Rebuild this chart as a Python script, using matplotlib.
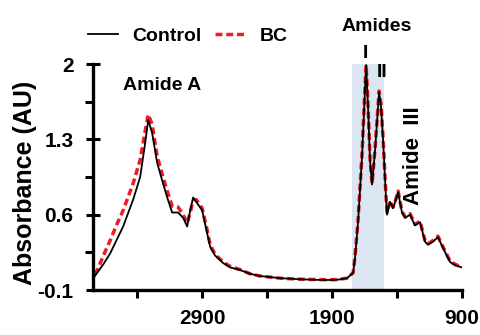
import numpy as np
import matplotlib
matplotlib.use("Agg")
import matplotlib.pyplot as plt

# wavenumber (cm-1) and absorbance
wavenumber = [3731, 3708, 3660, 3608, 3560, 3508, 3431, 3377, 3338, 3315,
              3285, 3246, 3208, 3169, 3131, 3085, 3046, 3015, 2992, 2969,
              2946, 2900, 2862, 2838, 2800, 2738, 2685, 2608, 2530, 2454,
              2300, 2146, 2040, 1938, 1860, 1785, 1738, 1723, 1700, 1669,
              1646, 1638, 1623, 1608, 1592, 1569, 1538, 1523, 1508, 1485,
              1477, 1454, 1431, 1408, 1392, 1362, 1338, 1300, 1262, 1223,
              1185, 1162, 1123, 1085, 1046, 992, 954, 900]
control = [0.02, 0.06, 0.14, 0.24, 0.36, 0.49, 0.74, 0.95, 1.27, 1.48,
           1.36, 1.08, 0.92, 0.76, 0.62, 0.62, 0.57, 0.49, 0.64, 0.76,
           0.72, 0.64, 0.43, 0.30, 0.22, 0.15, 0.11, 0.086, 0.05, 0.03,
           0.01, 0.0, -0.005, -0.007, -0.005, 0.01, 0.06, 0.20, 0.53, 1.15,
           1.78, 1.99, 1.60, 1.10, 0.88, 1.20, 1.74, 1.60, 1.31, 0.75,
           0.60, 0.72, 0.66, 0.74, 0.81, 0.62, 0.57, 0.60, 0.50, 0.53,
           0.35, 0.32, 0.35, 0.39, 0.29, 0.16, 0.13, 0.11]
bc = [0.05, 0.08, 0.22, 0.36, 0.50, 0.64, 0.89, 1.11, 1.38, 1.53,
      1.44, 1.14, 0.98, 0.82, 0.68, 0.67, 0.60, 0.52, 0.62, 0.73,
      0.74, 0.66, 0.46, 0.32, 0.23, 0.16, 0.12, 0.09, 0.05, 0.03,
      0.01, 0.0, -0.002, -0.005, -0.003, 0.01, 0.06, 0.22, 0.55, 1.18,
      1.80, 1.99, 1.62, 1.12, 0.89, 1.22, 1.75, 1.62, 1.33, 0.77,
      0.62, 0.73, 0.67, 0.75, 0.82, 0.63, 0.58, 0.61, 0.51, 0.54,
      0.36, 0.33, 0.36, 0.40, 0.30, 0.17, 0.14, 0.11]

x_ticks = [3400, 2900, 2400, 1900, 1400, 900]
x_labels = ['', '2900', '', '1900', '', '900']
y_ticks = [-0.1, 0.6, 1.3, 2.0]
y_labels = ['-0.1', '0.6', '1.3', '2']
y_minor = [0.25, 0.95, 1.65]

plt.rcParams['font.family'] = 'Liberation Sans'
plt.rcParams['font.weight'] = 'bold'
plt.rcParams['font.size'] = 14
plt.rcParams['axes.linewidth'] = 2.4

fig = plt.figure(figsize=(4.81, 3.35), dpi=100)
ax = fig.add_subplot(1, 1, 1)

# amide I/II band
ax.axvspan(1750, 1500, color='#dce6f2', zorder=0, lw=0)

ax.plot(wavenumber, bc, color='#ee1c25', linewidth=2.5,
        dashes=(2, 1.1), label='BC', zorder=2)
ax.plot(wavenumber, control, color='#000000', linewidth=1.3,
        label='Control', zorder=3)

ax.set_xlim(3740, 900)
ax.set_ylim(-0.1, 2.0)

for s in ['top', 'right']:
    ax.spines[s].set_visible(False)

ax.set_xticks(x_ticks)
ax.set_xticklabels(x_labels)
ax.set_yticks(y_ticks)
ax.set_yticklabels(y_labels)
ax.set_yticks(y_minor, minor=True)
ax.tick_params(axis='x', direction='out', length=6, width=2.2, pad=8,
               labelsize=15)
ax.tick_params(axis='y', which='major', direction='inout', length=10,
               width=2.2, pad=9, labelsize=15)
ax.tick_params(axis='y', which='minor', direction='out', length=6,
               width=2.2)

# labels on the peaks
ax.text(3208, 1.80, 'Amide A', ha='center', va='center', fontsize=14)
ax.text(1554, 2.35, 'Amides', ha='center', va='center', fontsize=14,
        clip_on=False)
ax.text(1646, 2.10, 'I', ha='center', va='center', fontsize=14,
        clip_on=False)
ax.text(1515, 1.92, 'II', ha='center', va='center', fontsize=14)
ax.text(1277, 1.15, 'Amide  III', ha='center', va='center', fontsize=16,
        rotation=90)

fig.text(25/481, 1-183/335, 'Absorbance (AU)', rotation=90,
         ha='center', va='center', fontsize=18)

plt.subplots_adjust(left=93/481, right=462/481, bottom=45/335, top=271/335)

h, l = ax.get_legend_handles_labels()
fig.legend(h[::-1], l[::-1], loc='center left',
           bbox_to_anchor=(88/481, 1-36/335), ncol=2, frameon=False,
           borderpad=0, borderaxespad=0, handlelength=1.55,
           handletextpad=0.75, columnspacing=0.65, fontsize=14)

plt.savefig('out.png', dpi=100)
